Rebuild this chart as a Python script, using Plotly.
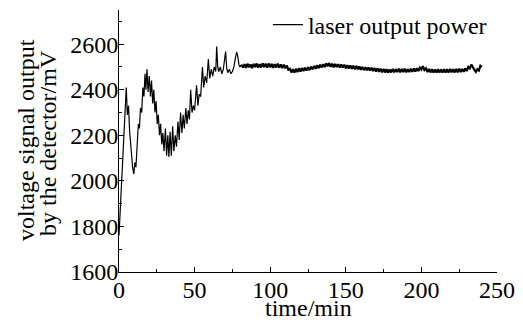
import plotly.graph_objects as go

# ---- data ----
time_early = [0, 1, 2, 3, 4, 4.8, 5.5, 6.3, 7, 8, 9, 9.8, 10.5, 11.2, 12, 12.8, 13.5, 14.2, 15, 15.8,
              16.5, 17.2, 17.8, 18.5, 19.2, 20, 20.8, 21.5, 22.3, 23, 23.8, 24.5, 25.3, 26, 26.8, 27.5,
              28.3, 29, 29.8, 30.7, 31.5, 32.3, 33, 33.8, 34.6, 35.5, 36.3, 37.2, 38, 39, 39.8, 40.7,
              41.6, 42.4, 43.2, 44.2, 45, 45.8, 46.6, 47.4, 48.3, 49.2, 50, 51.3, 52.2, 53, 54, 55.2,
              56, 57, 58, 59.1, 60, 61, 62, 63, 64, 64.6, 65.3, 66, 67, 68, 69, 70.5, 71.3, 72, 73, 74,
              75, 76, 77, 77.8, 78.6, 79.3, 80, 81]
volt_early = [1760, 1900, 2050, 2200, 2330, 2410, 2290, 2330, 2220, 2130, 2060, 2030, 2080, 2060, 2180,
              2250, 2230, 2320, 2300, 2410, 2370, 2470, 2400, 2490, 2390, 2460, 2370, 2440, 2340, 2400,
              2300, 2350, 2250, 2290, 2200, 2250, 2160, 2210, 2130, 2230, 2110, 2200, 2105, 2215, 2110,
              2240, 2130, 2200, 2150, 2260, 2180, 2300, 2210, 2290, 2230, 2320, 2250, 2310, 2270, 2400,
              2300, 2330, 2310, 2420, 2330, 2380, 2370, 2500, 2410, 2460, 2430, 2535, 2450, 2490, 2460,
              2500, 2480, 2590, 2500, 2480, 2500, 2470, 2490, 2568, 2490, 2475, 2490, 2470, 2480, 2500,
              2540, 2565, 2545, 2510, 2500, 2510]

time_plateau = list(range(82, 241))
volt_plateau = [2498, 2512, 2496, 2514, 2499, 2511, 2495, 2513, 2500, 2515, 2497, 2512, 2498, 2516,
                2500, 2514, 2497, 2515, 2499, 2513, 2496, 2512, 2498, 2514, 2497, 2511, 2495, 2510,
                2494, 2506, 2488, 2492, 2476, 2490, 2475, 2492, 2478, 2494, 2480, 2495, 2482, 2497,
                2484, 2499, 2486, 2501, 2490, 2504, 2492, 2507, 2495, 2510, 2498, 2512, 2500, 2516,
                2503, 2517, 2501, 2514, 2499, 2513, 2500, 2512, 2497, 2511, 2498, 2510, 2494, 2508,
                2493, 2507, 2492, 2505, 2490, 2504, 2490, 2502, 2488, 2500, 2486, 2499, 2485, 2498,
                2484, 2497, 2482, 2495, 2480, 2494, 2479, 2492, 2477, 2491, 2476, 2490, 2475, 2489,
                2476, 2491, 2477, 2490, 2478, 2492, 2477, 2491, 2478, 2492, 2477, 2490, 2478, 2492,
                2479, 2493, 2480, 2494, 2482, 2497, 2488, 2503, 2487, 2494, 2478, 2491, 2476, 2490,
                2475, 2489, 2476, 2490, 2475, 2489, 2476, 2490, 2475, 2490, 2476, 2491, 2477, 2490,
                2476, 2491, 2477, 2492, 2478, 2491, 2479, 2494, 2482, 2500, 2494, 2510, 2495, 2488,
                2478, 2490, 2484, 2505, 2500]

x_ticks = [0, 50, 100, 150, 200, 250]
y_ticks = [1600, 1800, 2000, 2200, 2400, 2600]
series_name = "laser output power"
x_title = "time/min"
y_title_lines = ["voltage signal output", "by the detector/mV"]

FONT = "Liberation Serif"
FS = 24

fig = go.Figure()
fig.add_trace(go.Scatter(x=time_early, y=volt_early, mode="lines", name=series_name,
                         legendgroup="p", line=dict(color="black", width=1.2)))
fig.add_trace(go.Scatter(x=[time_early[-1]] + time_plateau, y=[volt_early[-1]] + volt_plateau,
                         mode="lines", name=series_name, legendgroup="p", showlegend=False,
                         line=dict(color="black", width=2.2)))

fig.update_layout(
    template="none",
    width=523, height=320,
    margin=dict(l=119, r=26, t=10, b=48, pad=0, autoexpand=False),
    paper_bgcolor="white", plot_bgcolor="white",
    font=dict(family=FONT, size=FS, color="black"),
    showlegend=True,
    legend=dict(x=0.394, xanchor="left", y=0.943, yanchor="middle", bgcolor="rgba(0,0,0,0)",
                font=dict(family=FONT, size=FS, color="black"), borderwidth=0),
)
fig.update_xaxes(range=[0, 250], tickvals=x_ticks, showline=True, linecolor="black", linewidth=1,
                 ticks="inside", ticklen=5, tickcolor="black", showgrid=False, zeroline=False,
                 automargin=False,
                 minor=dict(dtick=25, ticks="inside", ticklen=3, tickcolor="black", showgrid=False),
                 tickfont=dict(family=FONT, size=FS), ticklabelstandoff=-4)
fig.update_yaxes(range=[1600, 2750], tickvals=y_ticks, showline=True, linecolor="black", linewidth=1,
                 ticks="inside", ticklen=5, tickcolor="black", showgrid=False, zeroline=False,
                 automargin=False,
                 minor=dict(dtick=100, ticks="inside", ticklen=3, tickcolor="black", showgrid=False),
                 tickfont=dict(family=FONT, size=FS), ticklabelstandoff=-5)

# x axis title
fig.add_annotation(text=x_title, xref="paper", yref="paper", x=0.5, y=-0.137,
                   xanchor="center", yanchor="middle", showarrow=False,
                   font=dict(family=FONT, size=FS, color="black"))
# y axis title (two tightly spaced lines)
fig.add_annotation(text=y_title_lines[0], textangle=-90, xref="paper", yref="paper",
                   x=(26 - 119) / 378, y=(272 - 243) / 262, xanchor="center", yanchor="bottom",
                   showarrow=False, font=dict(family=FONT, size=FS, color="black"))
fig.add_annotation(text=y_title_lines[1], textangle=-90, xref="paper", yref="paper",
                   x=(48 - 119) / 378, y=(272 - 238) / 262, xanchor="center", yanchor="bottom",
                   showarrow=False, font=dict(family=FONT, size=FS, color="black"))

fig.write_html("out.html", config={"displayModeBar": False},
               post_script="document.body.style.margin='0px';")
